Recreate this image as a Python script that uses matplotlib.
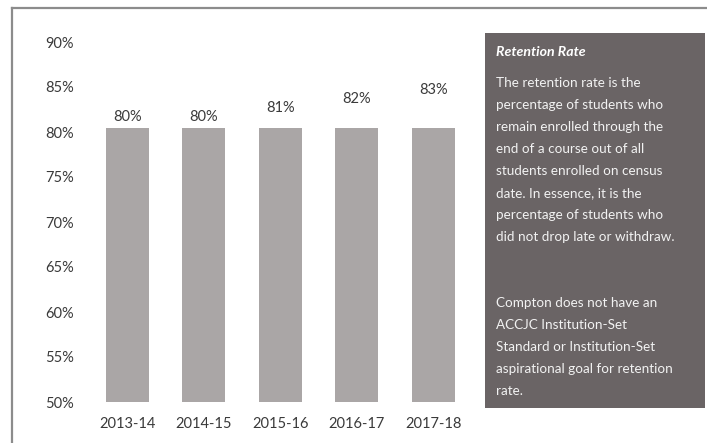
import matplotlib
matplotlib.use("Agg")
import matplotlib.pyplot as plt
from matplotlib.lines import Line2D
from matplotlib.patches import Rectangle

# data
years = ["2013-14", "2014-15", "2015-16", "2016-17", "2017-18"]
retention = [80, 80, 81, 82, 83]               # printed labels
bar_tops = [80.4, 80.4, 80.4, 80.4, 80.4]      # bar heights as drawn
yticks = [50, 55, 60, 65, 70, 75, 80, 85, 90]

box_title = "Retention Rate"
box_lines = [
    "The retention rate is the",
    "percentage of students who",
    "remain enrolled through the",
    "end of a course out of all",
    "students enrolled on census",
    "date. In essence, it is the",
    "percentage of students who",
    "did not drop late or withdraw.",
    "",
    "",
    "Compton does not have an",
    "ACCJC Institution-Set",
    "Standard or Institution-Set",
    "aspirational goal for retention",
    "rate.",
]

plt.rcParams['font.family'] = ['Lato', 'DejaVu Sans']

W, H = 707, 443
fig = plt.figure(figsize=(W / 100, H / 100), dpi=100)
fig.patch.set_facecolor("white")

def fx(px):
    return px / W

def fy(py):
    return 1 - py / H

# the chart
ax = fig.add_axes([fx(89), fy(402), fx(471.5) - fx(89), fy(42) - fy(402)])
xs = range(len(years))
ax.bar(xs, bar_tops, width=0.56, color="#aaa6a6", zorder=2)
ax.set_ylim(50, 90)
ax.set_xlim(-0.5, len(years) - 0.5)
ax.set_yticks(yticks)
ax.set_yticklabels(["%d%%" % t for t in yticks])
ax.set_xticks(list(xs))
ax.set_xticklabels(years)
ax.tick_params(axis="y", length=0, pad=11, labelsize=10.5, labelcolor="#3a3a3a")
ax.tick_params(axis="x", length=0, pad=11, labelsize=10.5, labelcolor="#3a3a3a")
for s in ax.spines.values():
    s.set_visible(False)
ax.set_facecolor("none")

for i, v in enumerate(retention):
    ax.annotate("%d%%" % v, (i, v), xytext=(0, 10.5), textcoords="offset points",
                ha="center", va="center", fontsize=10.5, color="#3a3a3a")

# outer frame (left and top edges show)
frame_col = "#8c8c8c"
fig.add_artist(Line2D([fx(12), fx(12)], [0, fy(8)], color=frame_col, lw=1.6))
fig.add_artist(Line2D([fx(12), 1], [fy(8), fy(8)], color=frame_col, lw=1.6))

# text box on the right
fig.add_artist(Rectangle((fx(485), fy(408)), fx(705) - fx(485), fy(33) - fy(408),
                         transform=fig.transFigure, facecolor="#6a6465",
                         edgecolor="none"))
fig.text(fx(496), fy(52), box_title, color="white", fontsize=10.2,
         fontweight="bold", fontstyle="italic", va="center", ha="left")
for k, line in enumerate(box_lines):
    fig.text(fx(496), fy(83 + k * 22), line, color="#f2f2f2", fontsize=9.7,
             va="center", ha="left")

plt.savefig("out.png", dpi=100)
